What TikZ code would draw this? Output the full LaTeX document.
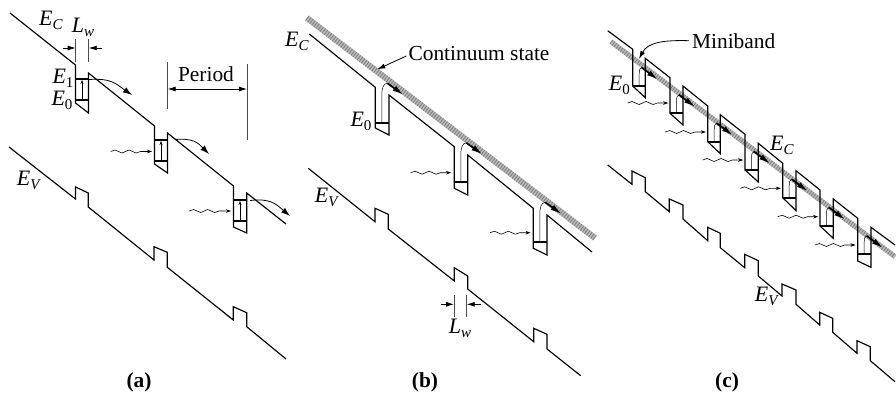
\documentclass[tikz,border=0pt]{standalone}
\usepackage{fontspec}
\setmainfont{Liberation Serif}
\usetikzlibrary{arrows.meta,decorations.pathmorphing}
\newcommand{\bigtxt}{\fontsize{21.4}{24}\selectfont}
\newcommand{\sym}[2]{{\fontsize{22}{24}\selectfont\textit{#1}}\raisebox{-4pt}{\fontsize{15}{15}\selectfont #2}}
\tikzset{
  band/.style={line width=1.15pt,line join=miter,line cap=butt},
  level/.style={line width=2pt},
  thinline/.style={line width=.6pt,draw=black!70},
  dimen/.style={line width=.8pt,{Latex[length=8pt,width=5pt]}-{Latex[length=8pt,width=5pt]}},
  dimenone/.style={line width=.8pt,-{Latex[length=8pt,width=5pt]}},
  wavy/.style={line width=.6pt,-{Stealth[length=5pt,width=3.5pt]},decorate,decoration={snake,amplitude=1.5pt,segment length=14pt,post length=6pt}},
  up/.style={line width=.5pt,-{Stealth[length=4pt,width=3pt]}},
  escape/.style={line width=.8pt,-{Latex[length=9pt,width=6pt]}},
  cont/.style={line width=#1,draw=black!28,line cap=butt},
  contdots/.style={line width=#1,draw=black!50,dash pattern=on .8pt off 1.8pt},
  txt/.style={inner sep=0pt,font=\bigtxt},
  capn/.style={inner sep=0pt,font=\bigtxt\bfseries},
  surge/.style={line width=1.7pt,-{Latex[length=11pt,width=6pt]}}
}
\begin{document}
\begin{tikzpicture}[x=1pt,y=-1pt]
\useasboundingbox (0,0) rectangle (896,394);
\fill[white] (0,0) rectangle (896,394);
% ---------- (a)
\draw[band] (10,13) -- (75.5,65) -- (75.5,103) -- (88.5,113) -- (88.5,73) -- (154.5,126) -- (154.5,164) -- (167.5,173) -- (167.5,133) -- (233.5,186) -- (233.5,227) -- (246.7,233) -- (246.7,193) -- (286,224);
\draw[band] (9,147) -- (75.5,199) -- (75.5,187) -- (88.3,193) -- (88.3,207) -- (154,260) -- (154,246.7) -- (167.3,252.3) -- (167.3,267.3) -- (233.3,320) -- (233.3,306.7) -- (246.7,312.7) -- (246.7,326.7) -- (286,359);
\foreach \x/\yt/\yb in {75.5/79/99.5,154.5/140/160.7,233.5/200/220.7}{
  \draw[level] (\x,\yt) -- ++(13,0);
  \draw[level] (\x,\yb) -- ++(13,0);
  \draw[up] (\x+6.5,\yb) -- (\x+6.5,\yt+1);
}
\draw[escape] (88.5,79.5) .. controls (112,78) and (116,84) .. (132,95);
\draw[escape] (175,139.5) .. controls (194,138) and (198,143) .. (209,154);
\draw[escape] (250,200.5) .. controls (270,198) and (276,204) .. (290,216);
\draw[wavy] (110.7,151.5) -- (152,151.5);
\draw[wavy] (189.3,211) -- (231,211);
\coordinate (aLl) at (75.7,48); \coordinate (aLr) at (88.7,48);
\draw[thinline] (75.7,39) -- (75.7,62);
\draw[thinline] (88.7,39) -- (88.7,62);
\draw[dimenone] (63.3,48) -- (aLl);
\draw[dimenone] (102,48) -- (aLr);
\coordinate (pl) at (167.7,89); \coordinate (pr) at (247,89);
\draw[thinline] (167.7,62) -- (167.7,109);
\draw[thinline] (247,64) -- (247,140);
\draw[dimen] (pl) -- (pr);
\node[txt] (aEc) at (51,20) {\sym{E}{\textit{C}}};
\node[txt] (aLw) at (83,27) {\sym{L}{\textit{w}}};
\node[txt] (aE1) at (63,78) {\sym{E}{1}};
\node[txt] (aE0) at (62,100) {\sym{E}{0}};
\node[txt] (aP) at (206,74) {Period};
\node[txt] (aEv) at (29,180) {\sym{E}{\textit{V}}};
\node[capn] (acap) at (139,382) {(a)};
% ---------- (b)
\draw[cont=6pt] (307,18) -- (595,238);
\draw[contdots=6pt] (307,18) -- (595,238);
\draw[band] (309.3,34) -- (375.3,87.3) -- (375.3,128) -- (389,135) -- (389,95) -- (454.3,146.7) -- (454.3,188.3) -- (467.7,195) -- (467.7,155) -- (533.3,208.3) -- (533.3,248.3) -- (547,255) -- (547,215) -- (592,252);
\draw[band] (308.3,168.3) -- (375,221.7) -- (375,208.3) -- (388.3,214.3) -- (388.3,229) -- (454.3,281) -- (454.3,267.7) -- (467.7,276) -- (467.7,289) -- (533.7,341.7) -- (533.7,328.3) -- (547,334.3) -- (547,349) -- (580.7,375.7);
\foreach \x/\y in {375.3/122.7,454.3/182.3,533.3/241.8}{
  \draw[level] (\x,\y) -- ++(13.5,0);
  \draw[line width=.5pt] (\x+6.5,\y) -- (\x+6.5,\y-27) .. controls (\x+6.5,\y-35) and (\x+8,\y-39) .. (\x+12,\y-39.5);
  \draw[surge] (\x+12,\y-39.5) -- (\x+28,\y-28);
}
\draw[wavy] (410.7,172.7) -- (451,172.7);
\draw[wavy] (490,232.7) -- (530.5,232.7);
\coordinate (bLl) at (454,304.3); \coordinate (bLr) at (466.7,304.3);
\draw[thinline] (454,295) -- (454,317);
\draw[thinline] (466.7,295) -- (466.7,317);
\draw[dimenone] (440.7,304.3) -- (bLl);
\draw[dimenone] (481,304.3) -- (bLr);
\node[txt] (bEc) at (297,41) {\sym{E}{\textit{C}}};
\node[txt] (bCs) at (479,54) {Continuum state};
\node[txt] (bE0) at (361,121.7) {\sym{E}{0}};
\node[txt] (bEv) at (327,197) {\sym{E}{\textit{V}}};
\node[txt] (bLw) at (460,328) {\sym{L}{\textit{w}}};
\node[capn] (bcap) at (425,382) {(b)};
\coordinate (bt) at (377.3,69.3);
\draw[dimenone] (bCs.west) ++(-2,2) -- (bt);
% ---------- (c)
\draw[cont=5pt] (611,41.7) -- (895,256.7);
\draw[contdots=5pt] (611,41.7) -- (895,256.7);
\draw[band] (607.7,30.7) -- (632.7,49.3) -- (632.7,86) -- (645.3,97.7) -- (645.3,58.3) -- (670,77.7) -- (670,113.3) -- (683,125) -- (683,86) -- (707.7,106) -- (707.7,141.7) -- (720.3,153.7) -- (720.3,114.7) -- (745,134.3) -- (745,170) -- (758.3,182) -- (758.3,143.3) -- (782.7,163.3) -- (782.7,197.7) -- (796,210.7) -- (796,170.7) -- (820,190) -- (820,226) -- (833.3,238.3) -- (833.3,199) -- (857.7,218.3) -- (857.7,261) -- (871,267.3) -- (871,227.3) -- (895,245);
\draw[band] (607.7,165) -- (632,184.3) -- (632,171) -- (645.3,177.7) -- (645.3,191.7) -- (669.3,211.7) -- (669.3,199) -- (683,205) -- (683,219) -- (707.7,240.7) -- (707.7,227.3) -- (720.3,233.3) -- (720.3,247.7) -- (744.7,267.7) -- (744.7,254.3) -- (758.3,260.7) -- (758.3,276) -- (782,296) -- (782,284) -- (796,290) -- (796,304.3) -- (819.7,325) -- (819.7,312.3) -- (832.7,318.3) -- (832.7,332.3) -- (857,353.3) -- (857,340.7) -- (870.3,346.7) -- (870.3,360.7) -- (895,381.7);
\foreach \x/\y in {632.7/86,670/113.3,707.7/141.7,745/170,782.7/197.7,820/226,857.7/254.3}{
  \draw[level] (\x,\y) -- ++(13,0);
  \draw[line width=.5pt] (\x+6.5,\y) -- (\x+6.5,\y-12) .. controls (\x+6.5,\y-16) and (\x+7,\y-18) .. (\x+9,\y-18.5);
  \draw[surge] (\x+9,\y-18.5) -- (\x+25,\y-6.5);
}
\foreach \x/\y in {627.7/103,665.3/132,702.7/160,740.3/188.3,777.7/216.7,815/245}{
  \draw[wavy] (\x,\y) -- (\x+40.5,\y);
}
\node[txt] (cE0) at (619.3,85) {\sym{E}{0}};
\node[txt] (cEc) at (782,145) {\sym{E}{\textit{C}}};
\node[txt] (cEv) at (767,296) {\sym{E}{\textit{V}}};
\node[txt] (cMb) at (733.7,40.7) {Miniband};
\node[capn] (ccap) at (727,382) {(c)};
\coordinate (ct) at (639,59);
\draw[dimenone] (cMb.west) ++(-3,0) .. controls (665,40) and (648,42) .. (ct);
\end{tikzpicture}
\end{document}
